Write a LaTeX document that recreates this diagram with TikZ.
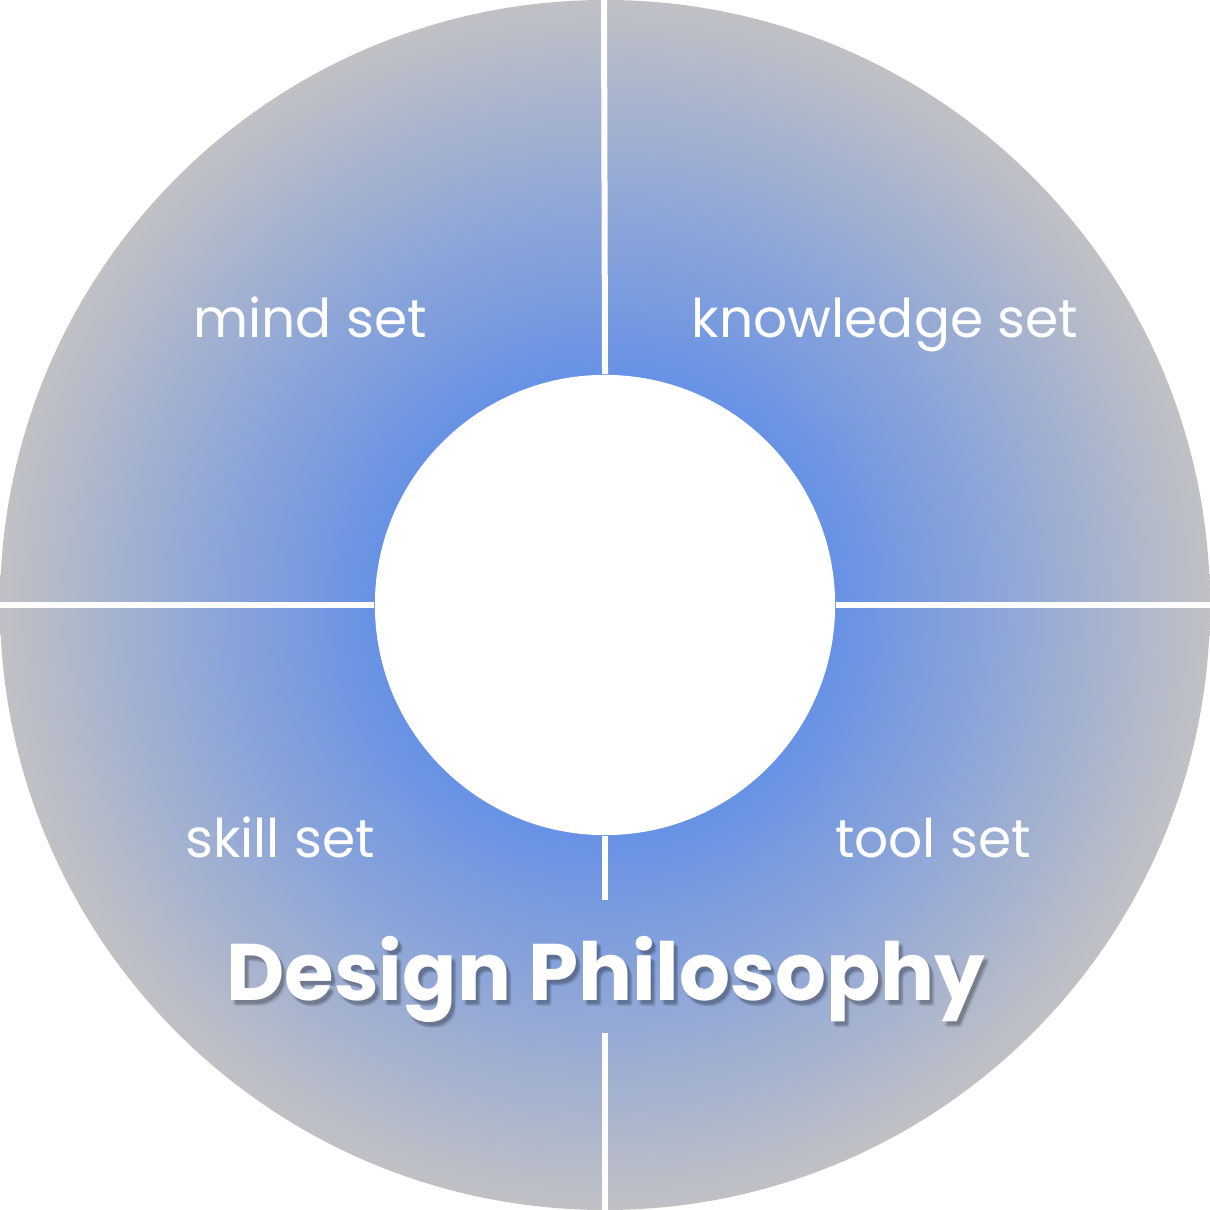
\documentclass[tikz,border=0pt]{standalone}
\usepackage{fontspec}
\setmainfont{Poppins}
\usetikzlibrary{positioning}
\definecolor{ringblue}{RGB}{104,146,229}
\definecolor{ringmid}{RGB}{146,168,214}
\definecolor{ringgrey}{RGB}{192,193,197}
\pgfdeclareradialshading{ringshade}{\pgfpoint{0bp}{0bp}}{color(0bp)=(ringblue); color(9.6bp)=(ringblue); color(17bp)=(ringmid); color(25bp)=(ringgrey); color(50bp)=(ringgrey)}
\tikzset{
  ring/.style={shading=ringshade},
  hole/.style={circle, fill=white, minimum size=4.6cm, inner sep=0pt},
  divider/.style={draw=white, line width=0.06cm},
  setlabel/.style={text=white, font=\fontsize{15.2}{17}\selectfont, anchor=base},
  title/.style={text=white, font=\bfseries\fontsize{22.8}{26}\selectfont, anchor=base},
  titleshadow/.style={text=black, opacity=0.07, font=\bfseries\fontsize{22.8}{26}\selectfont, anchor=base}
}
\begin{document}
\begin{tikzpicture}[x=0.01cm, y=-0.01cm]
  \useasboundingbox (0,0) rectangle (1210,1210);
  % outer ring
  \shade[ring] (605,605) circle (605);
  \node[hole] (core) at (605,605) {};

  % dividers
  \coordinate (top) at (604,0);
  \coordinate (left) at (0,605);
  \coordinate (right) at (1210,605);
  \coordinate (gapa) at (605,900);
  \coordinate (gapb) at (605,1033);
  \coordinate (bottom) at (605,1210);
  \draw[divider] (core.north) -- (top);
  \draw[divider] (core.west) -- (left);
  \draw[divider] (core.east) -- (right);
  \draw[divider] (core.south) -- (gapa);
  \draw[divider] (gapb) -- (bottom);

  % labels
  \node[setlabel] (mind) at (310,338) {mind set};
  \node[setlabel] (know) at (885,338) {knowledge set};
  \node[setlabel] (skill) at (280,857) {skill set};
  \node[setlabel] (tool) at (933,857) {tool set};

  % title with soft shadow
  \foreach \dx/\dy in {3/4,4/5,2/5,4/3,5/6}
    \node[titleshadow] at (606+\dx,1000+\dy) {Design Philosophy};
  \node[title] (head) at (606,1000) {Design Philosophy};
\end{tikzpicture}
\end{document}
